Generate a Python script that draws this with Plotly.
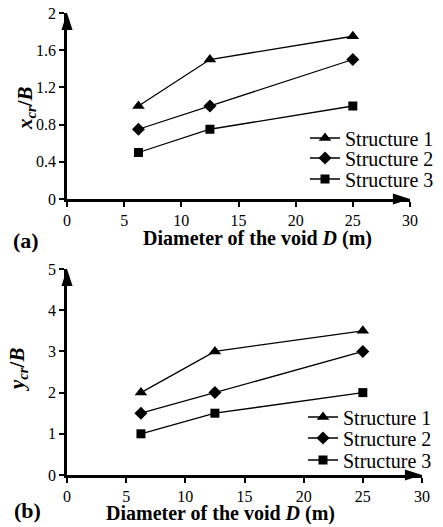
import plotly.graph_objects as go

# ---- data ----
diameter = [6.25, 12.5, 25]
series_names = ["Structure 1", "Structure 2", "Structure 3"]
xcr_s1 = [1.0, 1.5, 1.75]
xcr_s2 = [0.75, 1.0, 1.5]
xcr_s3 = [0.5, 0.75, 1.0]
ycr_s1 = [2.0, 3.0, 3.5]
ycr_s2 = [1.5, 2.0, 3.0]
ycr_s3 = [1.0, 1.5, 2.0]
x_ticks = [0, 5, 10, 15, 20, 25, 30]
xcr_ticks = [0, 0.4, 0.8, 1.2, 1.6, 2]
ycr_ticks = [0, 1, 2, 3, 4, 5]

W, H = 443, 527
FONT = "Liberation Serif, Times New Roman, Times, serif"
symbols = ["triangle-up", "diamond", "square"]
msizes = [11, 10, 9]

def px_x(p):
    return p / W

def px_y(p):
    return 1 - p / H

fig = go.Figure()

top_series = [xcr_s1, xcr_s2, xcr_s3]
bot_series = [ycr_s1, ycr_s2, ycr_s3]
top_rows = [138, 158, 179]
bot_rows = [417, 438, 460]

for i, (name, vals) in enumerate(zip(series_names, top_series)):
    fig.add_trace(go.Scatter(
        x=diameter, y=vals, name=name, mode="lines+markers",
        line=dict(color="black", width=1.3),
        marker=dict(symbol=symbols[i], size=msizes[i], color="black"),
        xaxis="x", yaxis="y", legend="legend" if i == 0 else f"legend{i+1}",
    ))
for i, (name, vals) in enumerate(zip(series_names, bot_series)):
    fig.add_trace(go.Scatter(
        x=diameter, y=vals, name=name, mode="lines+markers",
        line=dict(color="black", width=1.3),
        marker=dict(symbol=symbols[i], size=msizes[i], color="black"),
        xaxis="x2", yaxis="y2", legend=f"legend{i+4}",
    ))

# axis arrow heads
for xa, ya, xr, yr in [("x", "y", x_ticks, xcr_ticks), ("x2", "y2", x_ticks, ycr_ticks)]:
    fig.add_trace(go.Scatter(
        x=[xr[-1], xr[0]], y=[yr[0], yr[-1]], mode="markers",
        marker=dict(symbol="arrow", size=18, angle=[90, 0], color="black", line=dict(width=0)),
        xaxis=xa, yaxis=ya, showlegend=False, hoverinfo="skip", cliponaxis=False,
    ))

axis_common = dict(
    showline=True, linecolor="black", linewidth=2.5, showgrid=False, zeroline=False,
    ticks="outside", ticklen=5, tickwidth=1.5, tickcolor="black", automargin=False,
    tickfont=dict(family=FONT, size=16, color="black"),
)

fig.update_layout(
    width=W, height=H,
    margin=dict(l=0, r=0, t=0, b=0, autoexpand=False),
    paper_bgcolor="white", plot_bgcolor="white",
    font=dict(family=FONT, color="black"),
    xaxis=dict(domain=[px_x(67), px_x(410)], range=[0, 30], tickvals=x_ticks,
               anchor="y", **axis_common),
    yaxis=dict(domain=[px_y(199), px_y(13)], range=[0, 2], tickvals=xcr_ticks,
               anchor="x", **axis_common),
    xaxis2=dict(domain=[px_x(67), px_x(422)], range=[0, 30], tickvals=x_ticks,
                anchor="y2", **axis_common),
    yaxis2=dict(domain=[px_y(475), px_y(269)], range=[0, 5], tickvals=ycr_ticks,
                anchor="x2", **axis_common),
)

leg_common = dict(font=dict(family=FONT, size=20, color="black"), bgcolor="rgba(0,0,0,0)",
                  borderwidth=0, xanchor="left", yanchor="middle", itemclick=False)
for i, row in enumerate(top_rows):
    key = "legend" if i == 0 else f"legend{i+1}"
    fig.update_layout({key: dict(x=px_x(305), y=px_y(row), **leg_common)})
for i, row in enumerate(bot_rows):
    fig.update_layout({f"legend{i+4}": dict(x=px_x(303), y=px_y(row), **leg_common)})

title_x = "<b>Diameter of the void <i>D</i> (m)</b>"
ann = [
    dict(text=title_x, x=px_x(257), y=px_y(238), font=dict(size=20)),
    dict(text=title_x, x=px_x(220), y=px_y(513), font=dict(size=20)),
    dict(text="<b>(a)</b>", x=px_x(26), y=px_y(241), font=dict(size=22)),
    dict(text="<b>(b)</b>", x=px_x(27), y=px_y(510), font=dict(size=22)),
    dict(text="<b><i>x</i><sub><i>cr</i></sub>/<i>B</i></b>", x=px_x(26), y=px_y(108),
         textangle=-90, font=dict(size=21)),
    dict(text="<b><i>y</i><sub><i>cr</i></sub>/<i>B</i></b>", x=px_x(18), y=px_y(370),
         textangle=-90, font=dict(size=21)),
]
for a in ann:
    a.update(xref="paper", yref="paper", showarrow=False, xanchor="center", yanchor="middle")
    a["font"].update(family=FONT, color="black")
fig.update_layout(annotations=ann)

fig.write_html("out.html", config={"displayModeBar": False},
               post_script="document.body.style.margin='0';document.body.style.overflow='hidden';")
